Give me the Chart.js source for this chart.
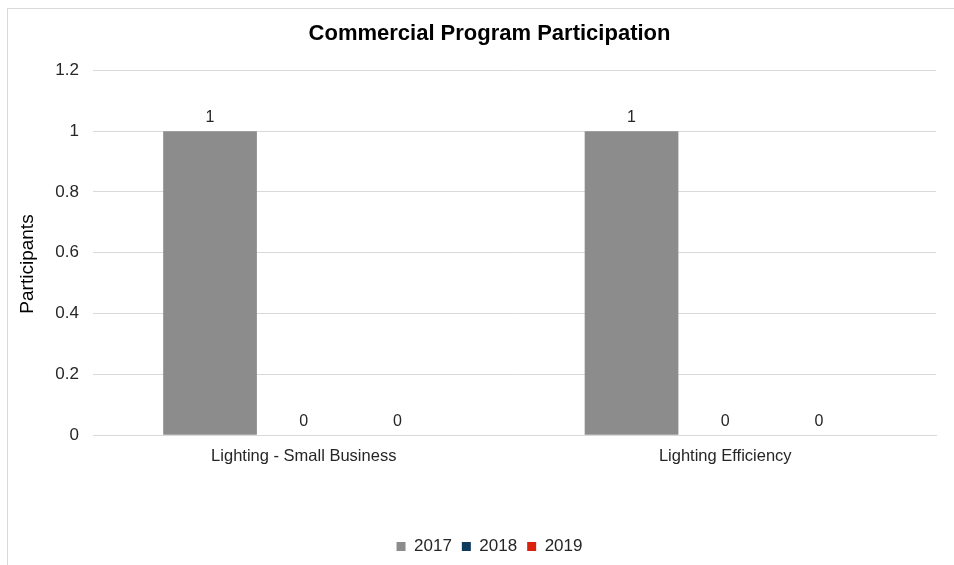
<!DOCTYPE html>
<html>
<head>
<meta charset="utf-8">
<script src="https://cdn.jsdelivr.net/npm/chart.js@4"></script>
<style>
  html, body { margin: 0; padding: 0; background: #fff; overflow: hidden; }
  .frame {
    position: absolute; left: 7px; top: 8px;
    width: 960px; height: 570px;
    border-left: 1px solid #d9d9d9; border-top: 1px solid #d9d9d9;
  }
  /* chart box runs past the right edge of the window, like the frame */
  .wrap { position: absolute; left: 0; top: 0; width: 974px; height: 565px; }
</style>
</head>
<body>
<div class="frame"></div>
<div class="wrap"><canvas id="myChart"></canvas></div>
<script>
const categories = ['Lighting - Small Business', 'Lighting Efficiency'];
const years = ['2017', '2018', '2019'];
const values2017 = [1, 1];
const values2018 = [0, 0];
const values2019 = [0, 0];
const yTicks = [0, 0.2, 0.4, 0.6, 0.8, 1, 1.2];

const colors = ['#8c8c8c', '#0e3a5c', '#d9230f'];
const font = "'Liberation Sans', Arial, sans-serif";
const textColor = '#262626';

// write each bar's value just above its top, plus the rotated y axis title
const extraText = {
    id: 'extraText',
    afterDatasetsDraw(chart) {
        const ctx = chart.ctx;
        ctx.save();
        ctx.font = `16px ${font}`;
        ctx.fillStyle = textColor;
        ctx.textAlign = 'center';
        ctx.textBaseline = 'bottom';
        chart.data.datasets.forEach((ds, i) => {
            chart.getDatasetMeta(i).data.forEach((bar, j) => {
                ctx.fillText(String(ds.data[j]), bar.x, bar.y - 6);
            });
        });
        ctx.translate(28, 264);
        ctx.rotate(-Math.PI / 2);
        ctx.font = `19px ${font}`;
        ctx.fillStyle = '#000';
        ctx.textBaseline = 'middle';
        ctx.fillText('Participants', 0, 0);
        ctx.restore();
    }
};

const ctx = document.getElementById('myChart').getContext('2d');
new Chart(ctx, {
    type: 'bar',
    data: {
        labels: categories,
        datasets: [values2017, values2018, values2019].map((d, i) => ({
            label: years[i],
            data: d,
            backgroundColor: colors[i],
            categoryPercentage: 0.667,
            barPercentage: 1
        }))
    },
    options: {
        responsive: true,
        maintainAspectRatio: false,
        animation: false,
        layout: { padding: { left: 43, right: 38, top: 21, bottom: 0 } },
        scales: {
            x: {
                grid: { display: false },
                border: { color: '#d9d9d9' },
                ticks: { color: textColor, font: { family: font, size: 16.5 }, padding: 3 },
                // leave empty room between the category names and the legend
                afterFit: scale => { scale.height += 59; }
            },
            y: {
                min: 0,
                max: 1.2,
                afterBuildTicks: axis => { axis.ticks = yTicks.map(v => ({ value: v })); },
                afterFit: scale => { scale.width = 50; },
                grid: { color: '#d9d9d9', drawTicks: false },
                border: { display: false },
                ticks: {
                    color: textColor,
                    font: { family: font, size: 17 },
                    padding: 14,
                    callback: v => String(+v.toFixed(1))
                }
            }
        },
        plugins: {
            title: {
                display: true,
                text: 'Commercial Program Participation',
                color: '#000',
                font: { family: font, size: 22, weight: 'bold' },
                padding: { top: 0, bottom: 23 }
            },
            legend: {
                position: 'bottom',
                labels: {
                    color: textColor,
                    font: { family: font, size: 17 },
                    boxWidth: 9,
                    boxHeight: 9,
                    padding: 10
                }
            },
            tooltip: { enabled: false }
        }
    },
    plugins: [extraText]
});
</script>
</body>
</html>
